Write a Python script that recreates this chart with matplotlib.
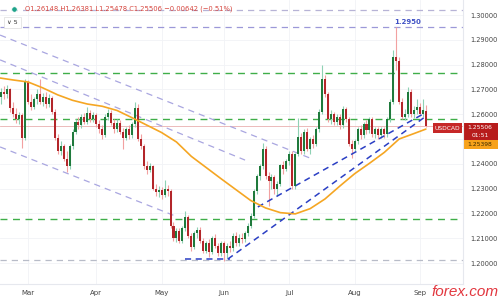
import matplotlib
matplotlib.use("Agg")
import matplotlib.pyplot as plt
import numpy as np
import pandas as pd
from matplotlib.patches import Rectangle

# ---------------- data ----------------
dates = pd.bdate_range("2021-02-15", "2021-09-03")
opens = [1.2705, 1.2670, 1.2690, 1.2680, 1.2700, 1.2625, 1.2600, 1.2580, 1.2595, 1.2505,
         1.2730, 1.2650, 1.2630, 1.2660, 1.2680, 1.2650, 1.2670, 1.2640, 1.2665, 1.2610,
         1.2505, 1.2450, 1.2470, 1.2420, 1.2390, 1.2470, 1.2530, 1.2570, 1.2555, 1.2590,
         1.2570, 1.2605, 1.2580, 1.2595, 1.2560, 1.2540, 1.2515, 1.2590, 1.2605, 1.2565,
         1.2540, 1.2565, 1.2530, 1.2505, 1.2540, 1.2515, 1.2560, 1.2625, 1.2500, 1.2470,
         1.2390, 1.2375, 1.2390, 1.2300, 1.2285, 1.2295, 1.2275, 1.2300, 1.2290, 1.2150,
         1.2100, 1.2130, 1.2090, 1.2140, 1.2185, 1.2110, 1.2065, 1.2120, 1.2135, 1.2090,
         1.2050, 1.2080, 1.2045, 1.2100, 1.2070, 1.2040, 1.2080, 1.2040, 1.2070, 1.2060,
         1.2110, 1.2080, 1.2100, 1.2095, 1.2120, 1.2150, 1.2190, 1.2290, 1.2350, 1.2390,
         1.2460, 1.2350, 1.2330, 1.2345, 1.2300, 1.2320, 1.2395, 1.2380, 1.2410, 1.2440,
         1.2310, 1.2440, 1.2510, 1.2450, 1.2530, 1.2460, 1.2500, 1.2480, 1.2540, 1.2610,
         1.2740, 1.2680, 1.2580, 1.2600, 1.2570, 1.2590, 1.2555, 1.2620, 1.2580, 1.2480,
         1.2460, 1.2490, 1.2540, 1.2515, 1.2560, 1.2535, 1.2580, 1.2520, 1.2540, 1.2515,
         1.2540, 1.2520, 1.2580, 1.2650, 1.2830, 1.2815, 1.2650, 1.2590, 1.2600, 1.2690,
         1.2600, 1.2615, 1.2630, 1.2600, 1.26148]
highs = [1.2720, 1.2705, 1.2712, 1.2718, 1.2705, 1.2650, 1.2625, 1.2610, 1.2605, 1.2740,
         1.2738, 1.2680, 1.2670, 1.2700, 1.2740, 1.2685, 1.2690, 1.2680, 1.2675, 1.2620,
         1.2520, 1.2490, 1.2480, 1.2450, 1.2480, 1.2540, 1.2580, 1.2590, 1.2600, 1.2605,
         1.2630, 1.2615, 1.2610, 1.2605, 1.2575, 1.2555, 1.2600, 1.2620, 1.2615, 1.2580,
         1.2580, 1.2575, 1.2545, 1.2550, 1.2555, 1.2570, 1.2650, 1.2640, 1.2520, 1.2480,
         1.2410, 1.2405, 1.2395, 1.2320, 1.2310, 1.2305, 1.2335, 1.2315, 1.2300, 1.2165,
         1.2140, 1.2140, 1.2150, 1.2210, 1.2195, 1.2120, 1.2130, 1.2145, 1.2145, 1.2100,
         1.2090, 1.2095, 1.2110, 1.2115, 1.2080, 1.2090, 1.2090, 1.2080, 1.2090, 1.2120,
         1.2125, 1.2115, 1.2120, 1.2130, 1.2160, 1.2200, 1.2300, 1.2360, 1.2400, 1.2485,
         1.2470, 1.2365, 1.2360, 1.2355, 1.2330, 1.2400, 1.2410, 1.2420, 1.2450, 1.2450,
         1.2445, 1.2585, 1.2525, 1.2540, 1.2545, 1.2510, 1.2515, 1.2550, 1.2620, 1.2800,
         1.2760, 1.2690, 1.2615, 1.2610, 1.2600, 1.2600, 1.2635, 1.2630, 1.2590, 1.2495,
         1.2500, 1.2550, 1.2555, 1.2570, 1.2575, 1.2590, 1.2590, 1.2550, 1.2550, 1.2550,
         1.2550, 1.2590, 1.2660, 1.2860, 1.2950, 1.2830, 1.2665, 1.2620, 1.2710, 1.2700,
         1.2635, 1.2660, 1.2645, 1.2660, 1.26381]
lows = [1.2655, 1.2640, 1.2660, 1.2665, 1.2610, 1.2590, 1.2565, 1.2560, 1.2465, 1.2495,
        1.2640, 1.2615, 1.2620, 1.2640, 1.2640, 1.2635, 1.2625, 1.2630, 1.2600, 1.2495,
        1.2440, 1.2435, 1.2410, 1.2365, 1.2380, 1.2460, 1.2520, 1.2540, 1.2545, 1.2560,
        1.2560, 1.2570, 1.2570, 1.2550, 1.2525, 1.2500, 1.2510, 1.2575, 1.2555, 1.2525,
        1.2530, 1.2520, 1.2460, 1.2495, 1.2500, 1.2505, 1.2550, 1.2490, 1.2460, 1.2380,
        1.2360, 1.2365, 1.2295, 1.2270, 1.2265, 1.2260, 1.2265, 1.2270, 1.2140, 1.2090,
        1.2085, 1.2080, 1.2080, 1.2130, 1.2100, 1.2050, 1.2055, 1.2100, 1.2080, 1.2040,
        1.2040, 1.2025, 1.2035, 1.2060, 1.2030, 1.2030, 1.2010, 1.2020, 1.2045, 1.2050,
        1.2070, 1.2070, 1.2080, 1.2085, 1.2110, 1.2140, 1.2180, 1.2280, 1.2335, 1.2380,
        1.2340, 1.2230, 1.2300, 1.2280, 1.2270, 1.2310, 1.2360, 1.2370, 1.2395, 1.2300,
        1.2300, 1.2430, 1.2440, 1.2440, 1.2450, 1.2440, 1.2465, 1.2470, 1.2530, 1.2600,
        1.2670, 1.2570, 1.2560, 1.2555, 1.2555, 1.2540, 1.2545, 1.2570, 1.2470, 1.2425,
        1.2450, 1.2480, 1.2500, 1.2505, 1.2520, 1.2525, 1.2510, 1.2505, 1.2500, 1.2505,
        1.2505, 1.2510, 1.2570, 1.2640, 1.2780, 1.2640, 1.2580, 1.2575, 1.2590, 1.2590,
        1.2585, 1.2600, 1.2600, 1.2590, 1.25478]
closes = [1.2670, 1.2690, 1.2680, 1.2700, 1.2625, 1.2600, 1.2580, 1.2595, 1.2505, 1.2730,
          1.2650, 1.2630, 1.2660, 1.2680, 1.2650, 1.2670, 1.2640, 1.2665, 1.2610, 1.2505,
          1.2450, 1.2470, 1.2420, 1.2390, 1.2470, 1.2530, 1.2570, 1.2555, 1.2590, 1.2570,
          1.2605, 1.2580, 1.2595, 1.2560, 1.2540, 1.2515, 1.2590, 1.2605, 1.2565, 1.2540,
          1.2565, 1.2530, 1.2505, 1.2540, 1.2515, 1.2560, 1.2625, 1.2500, 1.2470, 1.2390,
          1.2375, 1.2390, 1.2300, 1.2285, 1.2295, 1.2275, 1.2300, 1.2290, 1.2150, 1.2100,
          1.2130, 1.2090, 1.2140, 1.2185, 1.2110, 1.2065, 1.2120, 1.2135, 1.2090, 1.2050,
          1.2080, 1.2045, 1.2100, 1.2070, 1.2040, 1.2080, 1.2040, 1.2070, 1.2060, 1.2110,
          1.2080, 1.2100, 1.2095, 1.2120, 1.2150, 1.2190, 1.2290, 1.2350, 1.2390, 1.2460,
          1.2350, 1.2330, 1.2345, 1.2300, 1.2320, 1.2395, 1.2380, 1.2410, 1.2440, 1.2310,
          1.2440, 1.2510, 1.2450, 1.2530, 1.2460, 1.2500, 1.2480, 1.2540, 1.2610, 1.2740,
          1.2680, 1.2580, 1.2600, 1.2570, 1.2590, 1.2555, 1.2620, 1.2580, 1.2480, 1.2460,
          1.2490, 1.2540, 1.2515, 1.2560, 1.2535, 1.2580, 1.2520, 1.2540, 1.2515, 1.2540,
          1.2520, 1.2580, 1.2650, 1.2830, 1.2815, 1.2650, 1.2590, 1.2600, 1.2690, 1.2600,
          1.2615, 1.2630, 1.2600, 1.2615, 1.25506]

# 50-day moving average (bar index, value)
ma_idx = [0, 5, 10, 15, 20, 25, 30, 35, 40, 45, 50, 55, 60, 65, 70, 75, 80, 85,
          90, 95, 100, 105, 110, 115, 120, 125, 130, 135, 140, 144]
ma_val = [1.2747, 1.2738, 1.2730, 1.2706, 1.2678, 1.2656, 1.2641, 1.2632, 1.2615,
          1.2586, 1.2556, 1.2526, 1.2488, 1.2430, 1.2385, 1.2340, 1.2296, 1.2252,
          1.2222, 1.2203, 1.2198, 1.2219, 1.2258, 1.2310, 1.2360, 1.2402, 1.2446,
          1.2500, 1.2522, 1.2540]

# horizontal levels
green_levels = [1.2765, 1.2582, 1.2177]
grey_levels = [1.2012]
top_levels = [1.3020, 1.2950]
last_price = 1.25506
ma_last = 1.25398

# trend lines (bar index, price) pairs
down_lines = [((0.6, 1.2919), (105.0, 1.2423)),
              ((0.6, 1.2819), (83.1, 1.2415)),
              ((0.6, 1.2468), (59.5, 1.2190))]
up_lines = [((62.9, 1.2016), (78.0, 1.2016)),
            ((77.3, 1.2016), (143.7, 1.2589)),
            ((87.4, 1.2226), (143.7, 1.2605))]

yticks = [1.20, 1.21, 1.22, 1.23, 1.24, 1.26, 1.27, 1.28, 1.29, 1.30]

# ---------------- figure ----------------
W, H = 500, 300
fig = plt.figure(figsize=(5, 3), dpi=100)
fig.patch.set_facecolor("white")
ax = fig.add_axes([0, 16 / H, 463 / W, 284 / H])
ax.set_facecolor("white")

idx = np.arange(len(closes))
o = np.array(opens); c = np.array(closes); h = np.array(highs); l = np.array(lows)
up = c >= o

# grid
for p in yticks + [1.25]:
    ax.axhline(p, color="#f1f3f6", lw=0.6, zorder=0)
month_pos = [i for i in range(1, len(dates)) if dates[i].month != dates[i - 1].month]
for m in month_pos:
    ax.axvline(m, color="#f1f3f6", lw=0.6, zorder=0)

# levels
for p in green_levels:
    ax.axhline(p, color="#3fae49", lw=1.0, ls=(0, (5, 4)), zorder=1)
for p in grey_levels:
    ax.axhline(p, color="#b8bcc8", lw=0.9, ls=(0, (5, 4)), zorder=1)
ax.axhline(top_levels[0], color="#b7b3d6", lw=0.9, ls=(0, (5, 4)), zorder=1)
ax.axhline(top_levels[1], color="#9c98d8", lw=0.9, ls=(0, (5, 4)), zorder=1)
ax.axhline(last_price, color="#e9b0b0", lw=0.6, zorder=1)

for (x0, y0), (x1, y1) in down_lines:
    ax.plot([x0, x1], [y0, y1], color="#a9a6e0", lw=0.9, ls=(0, (5, 4)), zorder=1)
for (x0, y0), (x1, y1) in up_lines:
    ax.plot([x0, x1], [y0, y1], color="#2b3fc4", lw=1.1, ls=(0, (4, 3)), zorder=3)

# moving average
ax.plot(ma_idx, ma_val, color="#f5a623", lw=1.2, zorder=4, solid_capstyle="round")

# candles
ax.vlines(idx[up], l[up], h[up], color="#8fd1b4", lw=0.8, zorder=2)
ax.vlines(idx[~up], l[~up], h[~up], color="#f2a1a1", lw=0.8, zorder=2)
bh = c - o
bh = np.where(np.abs(bh) < 0.0004, np.sign(bh + 1e-9) * 0.0004, bh)
ax.bar(idx[up], bh[up], bottom=o[up], width=0.68, color="#1f7a3c", zorder=3, linewidth=0)
ax.bar(idx[~up], bh[~up], bottom=o[~up], width=0.68, color="#b3262a", zorder=3, linewidth=0)

ax.set_xlim(0.57, 156.5)
ax.set_ylim(1.30 - 269 / 2480, 1.30 + 15 / 2480)
for s in ax.spines.values():
    s.set_visible(False)

ax.yaxis.tick_right()
ax.set_yticks(yticks)
ax.set_yticklabels([f"{v:.5f}" for v in yticks], fontsize=4.8, color="#444")
ax.tick_params(axis="y", length=0, pad=5)
ax.set_xticks(month_pos)
ax.set_xticklabels([dates[m].strftime("%b") for m in month_pos], fontsize=5, color="#444")
ax.tick_params(axis="x", length=0, pad=4.5)

# separators
fig.add_artist(plt.Line2D([463 / W, 463 / W], [16 / H, 1], color="#e6e8ee", lw=0.8))
fig.add_artist(plt.Line2D([0, 463 / W], [16 / H, 16 / H], color="#e6e8ee", lw=0.8))

def fx(x):
    return x / W

def fy(y):
    return 1 - y / H

# header
fig.add_artist(plt.Line2D([fx(14)], [fy(9)], marker="o", ms=4, color="#1ea38a",
                          markeredgecolor="white", markeredgewidth=0.6))
fig.text(fx(25), fy(9), "O1.26148 H1.26381 L1.25478 C1.25506 \u22120.00642 (\u22120.51%)",
         fontsize=4.9, color="#d6453d", va="center", ha="left")
fig.add_artist(Rectangle((fx(4), fy(28)), 17 / W, 11 / H, transform=fig.transFigure,
                         facecolor="white", edgecolor="#dddddd", lw=0.5))
fig.text(fx(12.5), fy(22.5), "\u2228 5", fontsize=4.6, color="#333", va="center", ha="center")

# 1.2950 label
fig.text(fx(408), fy(22), "1.2950", fontsize=5, color="#3f51c5", va="center",
         ha="center", fontweight="bold")

# right side price tags
fig.add_artist(Rectangle((fx(433), fy(133)), 29 / W, 10 / H, transform=fig.transFigure,
                         facecolor="#c62828", edgecolor="none"))
fig.text(fx(447.5), fy(128), "USDCAD", fontsize=4.3, color="white", va="center", ha="center")
fig.add_artist(Rectangle((fx(463), fy(140)), 35 / W, 17 / H, transform=fig.transFigure,
                         facecolor="#b71c1c", edgecolor="none"))
fig.text(fx(480), fy(127.5), f"{last_price:.5f}", fontsize=4.3, color="white", va="center", ha="center")
fig.text(fx(480), fy(135.5), "01:51", fontsize=4.3, color="white", va="center", ha="center")
fig.add_artist(Rectangle((fx(463), fy(148.5)), 35 / W, 8.5 / H, transform=fig.transFigure,
                         facecolor="#f7a21b", edgecolor="none"))
fig.text(fx(480), fy(144.3), f"{ma_last:.5f}", fontsize=4.3, color="#3a2a00", va="center", ha="center")

# watermark
fig.text(fx(465), fy(292), "forex.com", fontsize=11, color="#e2373f", style="italic",
         va="center", ha="center", family="Liberation Sans")

fig.savefig("out.png", dpi=100, facecolor="white")
